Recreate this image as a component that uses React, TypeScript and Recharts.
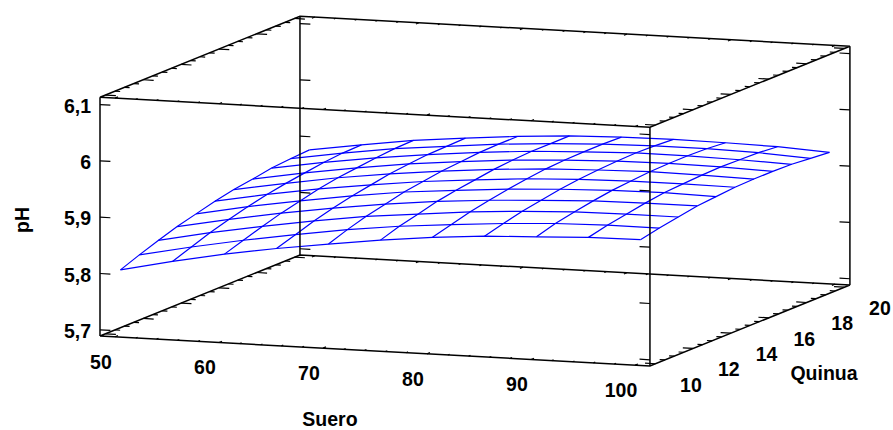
import React from "react";
import { LineChart, Line, XAxis, YAxis, ReferenceDot } from "recharts";

const suero = [50, 55, 60, 65, 70, 75, 80, 85, 90, 95, 100];
const quinua = [10, 11, 12, 13, 14, 15, 16, 17, 18, 19, 20];
// pH per quinua row (one row per quinua value), across suero
const ph10 = [5.804, 5.824, 5.842, 5.857, 5.87, 5.882, 5.892, 5.899, 5.903, 5.907, 5.908];
const ph11 = [5.817, 5.836, 5.853, 5.868, 5.882, 5.893, 5.901, 5.908, 5.913, 5.915, 5.915];
const ph12 = [5.829, 5.848, 5.864, 5.879, 5.892, 5.901, 5.91, 5.916, 5.92, 5.921, 5.921];
const ph13 = [5.84, 5.858, 5.874, 5.888, 5.9, 5.91, 5.917, 5.922, 5.926, 5.927, 5.927];
const ph14 = [5.849, 5.867, 5.882, 5.896, 5.908, 5.916, 5.923, 5.928, 5.931, 5.932, 5.93];
const ph15 = [5.858, 5.875, 5.89, 5.902, 5.913, 5.921, 5.928, 5.932, 5.934, 5.934, 5.933];
const ph16 = [5.865, 5.881, 5.896, 5.908, 5.918, 5.926, 5.932, 5.935, 5.937, 5.936, 5.934];
const ph17 = [5.87, 5.886, 5.9, 5.912, 5.921, 5.929, 5.934, 5.937, 5.938, 5.937, 5.934];
const ph18 = [5.876, 5.891, 5.904, 5.915, 5.924, 5.931, 5.935, 5.938, 5.938, 5.936, 5.933];
const ph19 = [5.879, 5.894, 5.907, 5.916, 5.925, 5.931, 5.935, 5.937, 5.937, 5.935, 5.93];
const ph20 = [5.881, 5.895, 5.908, 5.917, 5.925, 5.931, 5.934, 5.935, 5.934, 5.932, 5.927];
const phRows = [ph10, ph11, ph12, ph13, ph14, ph15, ph16, ph17, ph18, ph19, ph20];

const sueroMajor = [50, 60, 70, 80, 90, 100];
const sueroMinor = [52, 54, 56, 58, 62, 64, 66, 68, 72, 74, 76, 78, 82, 84, 86, 88, 92, 94, 96, 98];
const quinuaMajor = [10, 12, 14, 16, 18, 20];
const quinuaMinor = [10.5, 11, 11.5, 12.5, 13, 13.5, 14.5, 15, 15.5, 16.5, 17, 17.5, 18.5, 19, 19.5];
const phTicks = [5.7, 5.8, 5.9, 6, 6.1];
const phLabels = ["5,7", "5,8", "5,9", "6", "6,1"];

const S0 = 48.56, S1 = 101.44, Q0 = 9.71, Q1 = 20.29, Z0 = 5.689, Z1 = 6.113;

// oblique 3-D view onto the flat chart plane
const project = (s: number, q: number, z: number) => ({
  x: 100 + 10.4 * (s - S0) + 18.9 * (q - Q0),
  y: 336 + 0.567 * (s - S0) - 7.66 * (q - Q0) - 563 * (z - Z0),
});
type P3 = [number, number, number];
const path = (pts: P3[]) => pts.map((p) => project(p[0], p[1], p[2]));

const W = 893, H = 430;
const BLUE = "#0000ff";
const FONT = "'Liberation Sans', Arial, sans-serif";

const surfaceLines = [
  ...phRows.map((row, j) => path(row.map((z, i) => [suero[i], quinua[j], z] as P3))),
  ...suero.map((s, i) => path(phRows.map((row, j) => [s, quinua[j], row[i]] as P3))),
];

const boxLines = [
  path([[S0, Q0, Z0], [S1, Q0, Z0], [S1, Q1, Z0], [S0, Q1, Z0], [S0, Q0, Z0]]),
  path([[S0, Q0, Z1], [S1, Q0, Z1], [S1, Q1, Z1], [S0, Q1, Z1], [S0, Q0, Z1]]),
  path([[S0, Q0, Z0], [S0, Q0, Z1]]),
  path([[S1, Q0, Z0], [S1, Q0, Z1]]),
  path([[S0, Q1, Z0], [S0, Q1, Z1]]),
  path([[S1, Q1, Z0], [S1, Q1, Z1]]),
];

const ticks: { x: number; y: number }[][] = [];
// suero ticks on the four edges along suero
[[sueroMajor, 0.16], [sueroMinor, 0.1]].forEach(([vals, len]: any) => {
  (vals as number[]).forEach((s) => {
    [Z0, Z1].forEach((z) => {
      ticks.push(path([[s, Q0, z], [s, Q0 + len, z]]));
      ticks.push(path([[s, Q1, z], [s, Q1 - len, z]]));
    });
  });
});
// quinua ticks on the four edges along quinua
[[quinuaMajor, 1], [quinuaMinor, 0.5]].forEach(([vals, len]: any) => {
  (vals as number[]).forEach((q) => {
    [Z0, Z1].forEach((z) => {
      ticks.push(path([[S0, q, z], [S0 + len, q, z]]));
      ticks.push(path([[S1, q, z], [S1 - len, q, z]]));
    });
  });
});
// pH ticks on the four vertical edges
phTicks.forEach((z) => {
  ticks.push(path([[S0, Q0, z], [S0 + 1, Q0, z]]));
  ticks.push(path([[S1, Q0, z], [S1 - 1, Q0, z]]));
  ticks.push(path([[S0, Q1, z], [S0 + 1, Q1, z]]));
  ticks.push(path([[S1, Q1, z], [S1 - 1, Q1, z]]));
});

type Lbl = { x: number; y: number; text: string; anchor?: string; rotate?: boolean };
const labels: Lbl[] = [
  ...sueroMajor.map((s) => {
    const p = project(s, Q0, Z0);
    return { x: p.x - 14, y: p.y + 25, text: String(s) };
  }),
  ...quinuaMajor.map((q) => {
    const p = project(S1, q, Z0);
    return { x: p.x + 35.5, y: p.y + 21, text: String(q) };
  }),
  ...phTicks.map((z, i) => {
    const p = project(S0, Q0, z);
    return { x: p.x - 9, y: p.y + 1, text: phLabels[i], anchor: "end" };
  }),
  { x: 330, y: 419, text: "Suero" },
  { x: 824, y: 373, text: "Quinua" },
  { x: 22, y: 220, text: "pH", rotate: true },
];

export default function App() {
  return (
    <div style={{ position: "absolute", left: 0, top: 0, width: W, height: H, background: "#fff" }}>
      <LineChart width={W} height={H} margin={{ top: 0, right: 0, bottom: 0, left: 0 }}>
        <XAxis type="number" dataKey="x" domain={[0, W]} hide allowDataOverflow />
        <YAxis type="number" dataKey="y" domain={[0, H]} reversed hide allowDataOverflow />
        {surfaceLines.map((d, i) => (
          <Line key={"s" + i} data={d} dataKey="y" stroke={BLUE} strokeWidth={1.2} dot={false} activeDot={false} type="linear" isAnimationActive={false} />
        ))}
        {ticks.map((d, i) => (
          <Line key={"t" + i} data={d} dataKey="y" stroke="#000" strokeWidth={1.2} dot={false} activeDot={false} type="linear" isAnimationActive={false} />
        ))}
        {boxLines.map((d, i) => (
          <Line key={"b" + i} data={d} dataKey="y" stroke="#000" strokeWidth={1.5} dot={false} activeDot={false} type="linear" isAnimationActive={false} />
        ))}
        {labels.map((l) => (
          <ReferenceDot
            key={l.text + l.x}
            x={l.x}
            y={l.y}
            r={0}
            ifOverflow="visible"
            shape={(p: any) => (
              <text
                x={p.cx}
                y={p.cy}
                textAnchor={(l.anchor as any) || "middle"}
                dominantBaseline="central"
                transform={l.rotate ? `rotate(-90 ${p.cx} ${p.cy})` : undefined}
                style={{ fontFamily: FONT, fontWeight: 700, fontSize: 19.5, fill: "#000" }}
              >
                {l.text}
              </text>
            )}
          />
        ))}
      </LineChart>
    </div>
  );
}
